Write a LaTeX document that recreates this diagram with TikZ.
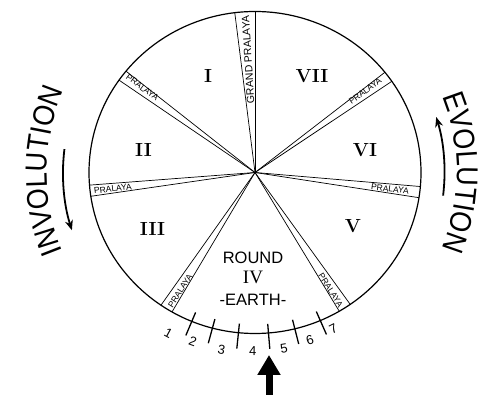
\documentclass[tikz,border=0pt]{standalone}
\usepackage{fontspec}
\setsansfont{Liberation Sans}
\newfontfamily\narrowsans[FakeStretch=0.9]{Liberation Sans}
\newfontfamily\timesish{Liberation Serif}
\usetikzlibrary{arrows.meta,decorations.text}
\newcommand\bigsans{\narrowsans\fontsize{30}{30}\selectfont}
\begin{document}
\begin{tikzpicture}[x=1pt,y=1pt,
  rim/.style={line width=1.2pt},
  wedgeline/.style={line width=0.7pt},
  tickline/.style={line width=1.3pt},
  numeral/.style={font=\fontsize{19}{19}\selectfont\bfseries, inner sep=0pt},
  pral/.style={font=\sffamily\fontsize{8.5}{8.5}\selectfont, inner sep=0pt},
  grand/.style={font=\sffamily\fontsize{10.5}{10.5}\selectfont, inner sep=0pt},
  earth/.style={font=\sffamily\fontsize{16.5}{16.5}\selectfont, inner sep=0pt},
  digit/.style={font=\sffamily\fontsize{13}{13}\selectfont, inner sep=0pt},
  curvedarrow/.style={line width=1.8pt, -{Stealth[length=10pt,width=8pt]}}]
\useasboundingbox (0,0) rectangle (484,395);
\begin{scope}[shift={(255,222.5)}]
  \coordinate (O) at (0,0);
  \draw[rim] (O) ellipse [x radius=166, y radius=161];
  \foreach \a in {90,97,141,145,184.5,188.5,235.5,240,300.5,305,351,355,34.5,38.5}
    \draw[wedgeline] (O) -- ({166*cos(\a)},{161*sin(\a)});
  % pralaya labels
  \node[grand, rotate=93.5] (gp) at (93.5:113) {GRAND PRALAYA};
  \node[pral, rotate=-37] (p12) at (143:141) {PRALAYA};
  \node[pral, rotate=6.5] (p23) at (186.5:143) {PRALAYA};
  \node[pral, rotate=57.75] (p34) at (237.75:140) {PRALAYA};
  \node[pral, rotate=-57.25] (p45) at (302.75:140) {PRALAYA};
  \node[pral, rotate=-7] (p56) at (353:136) {PRALAYA};
  \node[pral, rotate=36.5] (p67) at (36.5:137) {PRALAYA};
  % ticks
  \foreach \a in {247,254.7,264.1,274.8,284.3,293.8}
    \draw[tickline] (\a:152) -- (\a:177);
  % digits
  \foreach \n/\a/\r in {1/241.7/182.5,2/249.8/180,3/259.3/180,4/269.3/178.5,5/279.4/178,6/288.2/176,7/296.7/174.5}
    \node[digit, rotate={\a+90}] (d\n) at (\a:\r) {\n};
  % curved arrows
  \draw[curvedarrow] (173:192) arc[start angle=173, end angle=197.5, radius=192];
  \draw[curvedarrow] (-7:189.5) arc[start angle=-7, end angle=17, radius=189.5];
  % curved words
  \path[decorate, decoration={text along path, text align=center,
      text={|\bigsans|INVOLUTION}}]
    (209.5:208) arc[start angle=209.5, end angle=149.5, radius=208];
  \path[decorate, decoration={text along path, text align=center,
      text={|\bigsans|EVOLUTION}}]
    (30:202) arc[start angle=30, end angle=-30, radius=202];
\end{scope}
% round numerals
\node[numeral] (r1) at (208,319) {I};
\node[numeral] (r7) at (312,319) {VII};
\node[numeral] (r2) at (143.5,245.5) {II};
\node[numeral] (r6) at (365,245) {VI};
\node[numeral] (r3) at (152.5,166.5) {III};
\node[numeral] (r5) at (353,168.5) {V};
\node[earth] (round) at (253,137) {ROUND};
\node[font=\timesish\fontsize{19}{19}\selectfont, inner sep=0pt] (r4) at (253,118) {IV};
\node[earth] (earthlbl) at (253,95) {-EARTH-};
% pointer arrow
\coordinate (arrtail) at (269,0);
\coordinate (arrtip) at (269,40);
\draw[line width=7pt, -{Triangle[length=20pt,width=22pt]}] (arrtail) -- (arrtip);
\end{tikzpicture}
\end{document}
